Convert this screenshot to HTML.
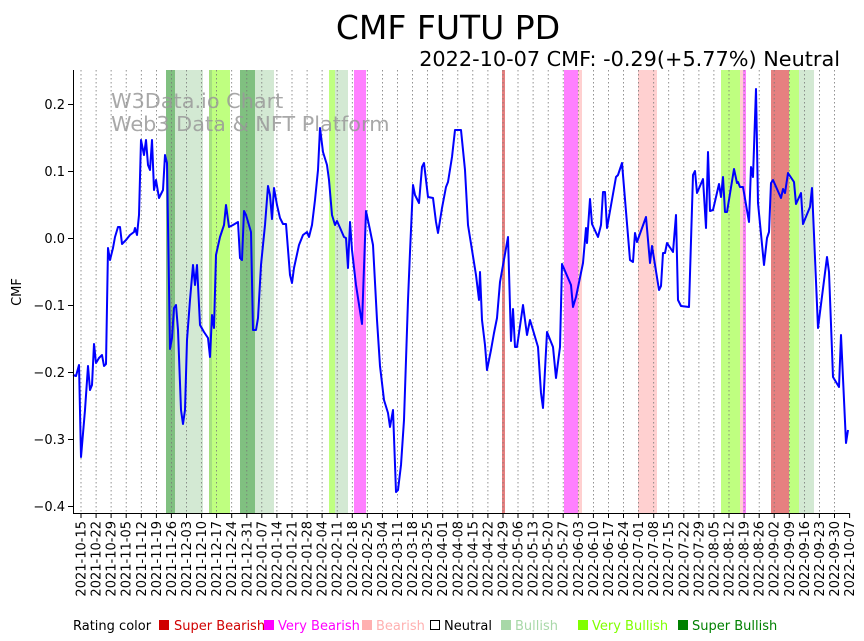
<!DOCTYPE html>
<html><head><meta charset="utf-8"><style>body{margin:0;background:#fff}svg{display:block;font-family:"DejaVu Sans","Liberation Sans",sans-serif}</style></head><body>
<svg width="864" height="641" viewBox="0 0 864 641" xmlns="http://www.w3.org/2000/svg">
<rect width="864" height="641" fill="#fff"/>
<text x="448" y="39" font-size="33" text-anchor="middle">CMF FUTU PD</text>
<text x="840" y="66" font-size="20.8" text-anchor="end">2022-10-07 CMF: -0.29(+5.77%) Neutral</text>
<g>
<rect x="166" y="70" width="9" height="443" fill="#80c080"/>
<rect x="175" y="70" width="28" height="443" fill="#d3e9d3"/>
<rect x="209" y="70" width="3" height="443" fill="#a6e080"/>
<rect x="212" y="70" width="18" height="443" fill="#bfff80"/>
<rect x="240" y="70" width="15" height="443" fill="#80c080"/>
<rect x="255" y="70" width="19" height="443" fill="#d3e9d3"/>
<rect x="329" y="70" width="6" height="443" fill="#bfff80"/>
<rect x="335" y="70" width="13" height="443" fill="#d3e9d3"/>
<rect x="354" y="70" width="12" height="443" fill="#ff80ff"/>
<rect x="502" y="70" width="3" height="443" fill="#e68080"/>
<rect x="564" y="70" width="14" height="443" fill="#ff80ff"/>
<rect x="578" y="70" width="4" height="443" fill="#ffd0d0"/>
<rect x="638" y="70" width="19" height="443" fill="#ffd0d0"/>
<rect x="721" y="70" width="19" height="443" fill="#bfff80"/>
<rect x="740" y="70" width="3" height="443" fill="#ffd0d0"/>
<rect x="743" y="70" width="3" height="443" fill="#ff80ff"/>
<rect x="771" y="70" width="18" height="443" fill="#e68080"/>
<rect x="789" y="70" width="10" height="443" fill="#bfff80"/>
<rect x="799" y="70" width="15" height="443" fill="#d3e9d3"/>
</g>
<path stroke="#777" stroke-width="0.8" stroke-dasharray="1.5,2.5" fill="none" d="M81,70V513M96.1,70V513M111.1,70V513M126.2,70V513M141.3,70V513M156.4,70V513M171.4,70V513M186.5,70V513M201.6,70V513M216.6,70V513M231.7,70V513M246.8,70V513M261.8,70V513M276.9,70V513M292,70V513M307.1,70V513M322.1,70V513M337.2,70V513M352.3,70V513M367.3,70V513M382.4,70V513M397.5,70V513M412.5,70V513M427.6,70V513M442.7,70V513M457.8,70V513M472.8,70V513M487.9,70V513M503,70V513M518,70V513M533.1,70V513M548.2,70V513M563.2,70V513M578.3,70V513M593.4,70V513M608.5,70V513M623.5,70V513M638.6,70V513M653.7,70V513M668.7,70V513M683.8,70V513M698.9,70V513M713.9,70V513M729,70V513M744.1,70V513M759.2,70V513M774.2,70V513M789.3,70V513M804.4,70V513M819.4,70V513M834.5,70V513"/>
<text x="111" y="108" font-size="20.8" fill="#999" fill-opacity="0.85">W3Data.io Chart</text>
<text x="111" y="131" font-size="20.8" fill="#999" fill-opacity="0.85">Web3 Data &amp; NFT Platform</text>
<polyline fill="none" stroke="#0000ff" stroke-width="2" stroke-linejoin="round" points="73,375 76,376 79,365 81,457 85,410 88,366 90,390 92,385 94,344 96,363 99,358 102,355 104,366 106,364 108,248 110,260 113,248 115,237 118,227 120,227 122,244 126,240 130,235 134,232 135,228 137,235 139,215 141,140 144,155 146,140 148,165 150,170 152,140 154,190 156,180 159,198 163,190 165,155 167,163 170,349 172,338 174,308 176,305 178,330 181,410 183,424 185,410 187,340 190,300 193,265 195,285 197,265 200,325 204,332 208,338 210,357 212,315 214,328 216,255 220,237 224,225 226,205 229,227 233,225 238,222 240,258 242,260 244,211 246,215 251,232 253,330 256,330 258,318 261,265 265,225 268,186 270,195 272,219 274,188 277,205 280,218 283,224 286,224 290,275 292,283 294,268 299,245 303,235 307,232 309,237 312,225 315,200 318,170 320,128 323,152 327,165 329,180 332,215 335,225 337,221 341,230 344,237 346,238 348,268 350,222 352,250 356,285 362,324 366,211 370,230 373,245 377,320 380,366 384,400 388,413 390,427 393,410 396,492 398,490 401,465 404,420 408,300 410,252 413,185 415,195 419,203 422,167 424,163 428,197 433,198 436,222 438,233 442,208 446,187 448,182 452,157 455,130 461,130 465,170 468,225 472,250 476,275 479,300 480,272 482,320 485,345 487,370 491,350 494,333 497,318 500,282 508,237 511,341 513,309 515,347 517,347 523,305 527,335 530,320 538,347 541,393 543,408 547,332 553,347 556,378 560,347 562,264 571,285 573,307 576,297 583,263 586,228 587,243 590,199 592,224 598,237 601,225 603,192 605,192 607,228 616,177 618,175 622,163 630,260 633,262 635,233 637,242 646,217 650,263 652,246 659,290 661,286 663,253 665,253 667,243 673,252 676,215 678,300 681,306 689,307 693,175 695,171 697,193 703,179 706,228 708,152 710,211 713,210 719,184 721,197 723,177 725,212 727,212 734,169 737,183 738,182 740,187 743,187 749,222 751,167 753,177 756,89 758,203 764,265 767,238 769,232 771,183 773,180 781,198 783,189 785,193 788,173 794,182 796,204 801,193 803,224 810,207 812,188 818,328 827,257 829,272 833,377 839,387 841,335 846,443 848,430"/>
<g stroke="#000" stroke-width="1"><line x1="73.5" y1="70" x2="73.5" y2="513.5"/><line x1="73" y1="513.5" x2="849" y2="513.5"/></g>
<path stroke="#000" stroke-width="1" d="M68,104.5H73M68,171.5H73M68,238.5H73M68,305.5H73M68,372.5H73M68,439.5H73M68,506.5H73"/>
<g font-size="13" text-anchor="end">
<text x="65" y="109">0.2</text><text x="65" y="176">0.1</text><text x="65" y="243">0.0</text><text x="65" y="310">−0.1</text><text x="65" y="377">−0.2</text><text x="65" y="444">−0.3</text><text x="65" y="511">−0.4</text>
</g>
<text transform="translate(21,292) rotate(-90)" font-size="13" text-anchor="middle">CMF</text>
<path stroke="#000" stroke-width="1" d="M81,513V518M96.1,513V518M111.1,513V518M126.2,513V518M141.3,513V518M156.4,513V518M171.4,513V518M186.5,513V518M201.6,513V518M216.6,513V518M231.7,513V518M246.8,513V518M261.8,513V518M276.9,513V518M292,513V518M307.1,513V518M322.1,513V518M337.2,513V518M352.3,513V518M367.3,513V518M382.4,513V518M397.5,513V518M412.5,513V518M427.6,513V518M442.7,513V518M457.8,513V518M472.8,513V518M487.9,513V518M503,513V518M518,513V518M533.1,513V518M548.2,513V518M563.2,513V518M578.3,513V518M593.4,513V518M608.5,513V518M623.5,513V518M638.6,513V518M653.7,513V518M668.7,513V518M683.8,513V518M698.9,513V518M713.9,513V518M729,513V518M744.1,513V518M759.2,513V518M774.2,513V518M789.3,513V518M804.4,513V518M819.4,513V518M834.5,513V518M849.6,513V518"/>
<g font-size="13" text-anchor="end">
<text transform="translate(85.5,521) rotate(-90)">2021-10-15</text>
<text transform="translate(100.6,521) rotate(-90)">2021-10-22</text>
<text transform="translate(115.6,521) rotate(-90)">2021-10-29</text>
<text transform="translate(130.7,521) rotate(-90)">2021-11-05</text>
<text transform="translate(145.8,521) rotate(-90)">2021-11-12</text>
<text transform="translate(160.9,521) rotate(-90)">2021-11-19</text>
<text transform="translate(175.9,521) rotate(-90)">2021-11-26</text>
<text transform="translate(191,521) rotate(-90)">2021-12-03</text>
<text transform="translate(206.1,521) rotate(-90)">2021-12-10</text>
<text transform="translate(221.1,521) rotate(-90)">2021-12-17</text>
<text transform="translate(236.2,521) rotate(-90)">2021-12-24</text>
<text transform="translate(251.3,521) rotate(-90)">2021-12-31</text>
<text transform="translate(266.3,521) rotate(-90)">2022-01-07</text>
<text transform="translate(281.4,521) rotate(-90)">2022-01-14</text>
<text transform="translate(296.5,521) rotate(-90)">2022-01-21</text>
<text transform="translate(311.6,521) rotate(-90)">2022-01-28</text>
<text transform="translate(326.6,521) rotate(-90)">2022-02-04</text>
<text transform="translate(341.7,521) rotate(-90)">2022-02-11</text>
<text transform="translate(356.8,521) rotate(-90)">2022-02-18</text>
<text transform="translate(371.8,521) rotate(-90)">2022-02-25</text>
<text transform="translate(386.9,521) rotate(-90)">2022-03-04</text>
<text transform="translate(402,521) rotate(-90)">2022-03-11</text>
<text transform="translate(417,521) rotate(-90)">2022-03-18</text>
<text transform="translate(432.1,521) rotate(-90)">2022-03-25</text>
<text transform="translate(447.2,521) rotate(-90)">2022-04-01</text>
<text transform="translate(462.3,521) rotate(-90)">2022-04-08</text>
<text transform="translate(477.3,521) rotate(-90)">2022-04-15</text>
<text transform="translate(492.4,521) rotate(-90)">2022-04-22</text>
<text transform="translate(507.5,521) rotate(-90)">2022-04-29</text>
<text transform="translate(522.5,521) rotate(-90)">2022-05-06</text>
<text transform="translate(537.6,521) rotate(-90)">2022-05-13</text>
<text transform="translate(552.7,521) rotate(-90)">2022-05-20</text>
<text transform="translate(567.7,521) rotate(-90)">2022-05-27</text>
<text transform="translate(582.8,521) rotate(-90)">2022-06-03</text>
<text transform="translate(597.9,521) rotate(-90)">2022-06-10</text>
<text transform="translate(613,521) rotate(-90)">2022-06-17</text>
<text transform="translate(628,521) rotate(-90)">2022-06-24</text>
<text transform="translate(643.1,521) rotate(-90)">2022-07-01</text>
<text transform="translate(658.2,521) rotate(-90)">2022-07-08</text>
<text transform="translate(673.2,521) rotate(-90)">2022-07-15</text>
<text transform="translate(688.3,521) rotate(-90)">2022-07-22</text>
<text transform="translate(703.4,521) rotate(-90)">2022-07-29</text>
<text transform="translate(718.4,521) rotate(-90)">2022-08-05</text>
<text transform="translate(733.5,521) rotate(-90)">2022-08-12</text>
<text transform="translate(748.6,521) rotate(-90)">2022-08-19</text>
<text transform="translate(763.7,521) rotate(-90)">2022-08-26</text>
<text transform="translate(778.7,521) rotate(-90)">2022-09-02</text>
<text transform="translate(793.8,521) rotate(-90)">2022-09-09</text>
<text transform="translate(808.9,521) rotate(-90)">2022-09-16</text>
<text transform="translate(823.9,521) rotate(-90)">2022-09-23</text>
<text transform="translate(839,521) rotate(-90)">2022-09-30</text>
<text transform="translate(854.1,521) rotate(-90)">2022-10-07</text>
</g>
<g font-size="13">
<text x="73" y="630">Rating color</text>
<rect x="159" y="620" width="10" height="10" fill="#d00000"/><text x="174" y="630" fill="#d00000">Super Bearish</text>
<rect x="264" y="620" width="10" height="10" fill="#ff00ff"/><text x="278" y="630" fill="#ff00ff">Very Bearish</text>
<rect x="362" y="620" width="10" height="10" fill="#ffb0b0"/><text x="376" y="630" fill="#ffb0b0">Bearish</text>
<rect x="430.5" y="620.5" width="9" height="9" fill="#fff" stroke="#000"/><text x="444" y="630">Neutral</text>
<rect x="501" y="620" width="10" height="10" fill="#a8d8a8"/><text x="515" y="630" fill="#a8d8a8">Bullish</text>
<rect x="578" y="620" width="10" height="10" fill="#80ff00"/><text x="592" y="630" fill="#80ff00">Very Bullish</text>
<rect x="678" y="620" width="10" height="10" fill="#008000"/><text x="692" y="630" fill="#008000">Super Bullish</text>
</g>
</svg>
</body></html>
